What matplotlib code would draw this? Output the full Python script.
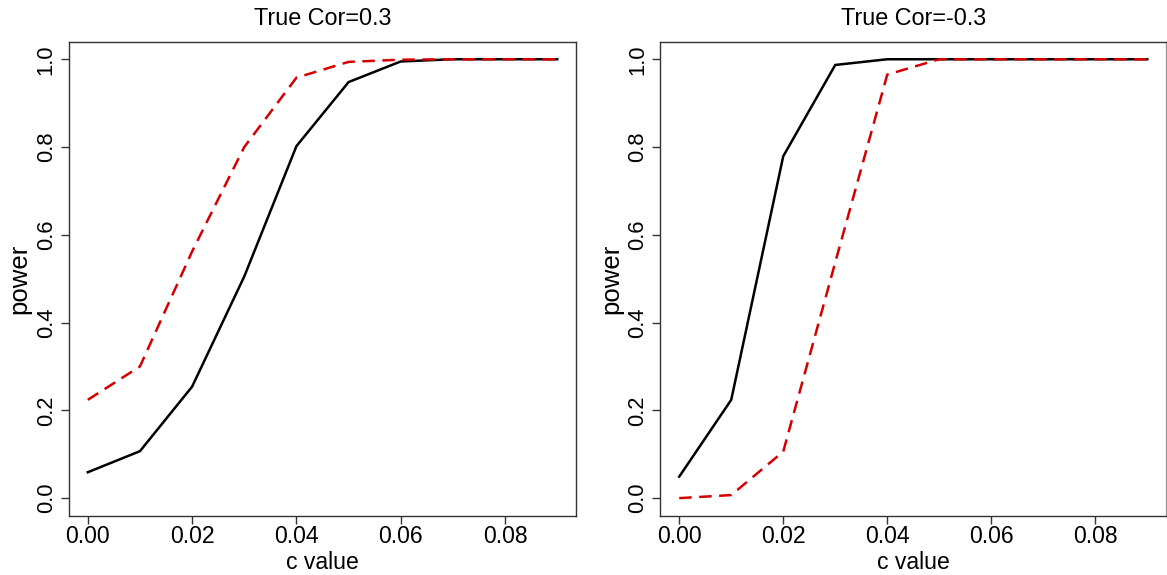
import matplotlib
matplotlib.use("Agg")
import matplotlib.pyplot as plt

plt.rcParams['font.family'] = ['Liberation Sans', 'DejaVu Sans']

c_values = [0.00, 0.01, 0.02, 0.03, 0.04, 0.05, 0.06, 0.07, 0.08, 0.09]

# True Cor = 0.3
pos_black = [0.059, 0.107, 0.254, 0.505, 0.802, 0.948, 0.995, 1.0, 1.0, 1.0]
pos_red = [0.224, 0.300, 0.562, 0.800, 0.958, 0.994, 0.999, 1.0, 1.0, 1.0]

# True Cor = -0.3
neg_black = [0.049, 0.224, 0.779, 0.987, 1.0, 1.0, 1.0, 1.0, 1.0, 1.0]
neg_red = [0.0, 0.007, 0.106, 0.537, 0.965, 1.0, 1.0, 1.0, 1.0, 1.0]

titles = ["True Cor=0.3", "True Cor=-0.3"]
x_ticks = [0.00, 0.02, 0.04, 0.06, 0.08]
y_ticks = [0.0, 0.2, 0.4, 0.6, 0.8, 1.0]

W, H = 1167, 575
fig = plt.figure(figsize=(W / 100, H / 100), dpi=100)

def px_axes(left, right, top, bottom):
    return fig.add_axes([left / W, 1 - bottom / H, (right - left) / W, (bottom - top) / H])

axes = [px_axes(69, 576, 41.7, 515.7), px_axes(660.5, 1166, 41.7, 515.7)]
data = [(pos_black, pos_red), (neg_black, neg_red)]

for ax, title, (blk, red) in zip(axes, titles, data):
    ax.plot(c_values, blk, color='black', lw=1.8, solid_joinstyle='miter')
    ax.plot(c_values, red, color='#d40000', lw=1.8, dashes=(5, 3))
    ax.set_xlim(-0.0036, 0.0936)
    ax.set_ylim(-0.04, 1.04)
    ax.set_xticks(x_ticks)
    ax.set_xticklabels([f"{v:.2f}" for v in x_ticks])
    ax.set_yticks(y_ticks)
    ax.set_yticklabels([f"{v:.1f}" for v in y_ticks], rotation=90, va='center')
    ax.tick_params(direction='out', length=5.8, width=1, colors='#333333')
    ax.tick_params(axis='x', labelsize=16.6, pad=0.8, labelcolor='black')
    ax.tick_params(axis='y', labelsize=15.8, pad=3, labelcolor='black')
    for s in ax.spines.values():
        s.set_linewidth(1.0)
        s.set_color('#333333')
    ax.spines['right'].set_color('#999999')
    ax.set_title(title, fontsize=16.8, pad=12)
    ax.set_xlabel("c value", fontsize=16.6, labelpad=2)
    ax.set_ylabel("power", fontsize=18.5, labelpad=3)

axes[0].spines['right'].set_color('#333333')

fig.savefig("out.png", dpi=100, facecolor='white')
